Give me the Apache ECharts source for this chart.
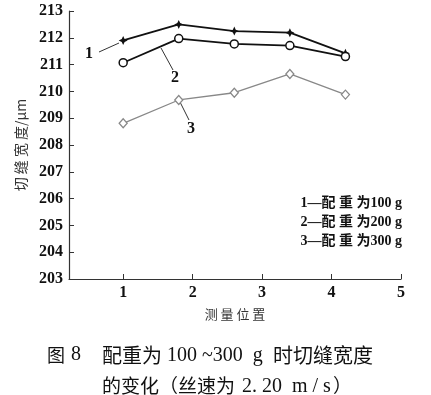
<!DOCTYPE html>
<html><head><meta charset="utf-8">
<script src="https://cdn.jsdelivr.net/npm/echarts@6/dist/echarts.min.js"></script>
<style>html,body{margin:0;padding:0;background:#fff}#c{width:431px;height:395px}</style>
</head><body><div id="c"></div>
<script>
const positions = [1, 1.8, 2.6, 3.4, 4.2];
const s1 = [211.9, 212.5, 212.25, 212.19, 211.42];
const s2 = [211.07, 211.97, 211.77, 211.71, 211.3];
const s3 = [208.81, 209.68, 209.95, 210.65, 209.88];
const xTicks = [1, 2, 3, 4, 5];
const legendTexts = ['1—配 重 为100 g', '2—配 重 为200 g', '3—配 重 为300 g'];

const pair = (xs, ys) => xs.map((x, i) => [x, ys[i]]);
const serif = '"Liberation Serif","Noto Sans CJK SC",serif';
const cjk = '"Noto Sans CJK SC",sans-serif';
const txt = (x, y, text, font, extra) => Object.assign({type: 'text', style: Object.assign({x: x, y: y, text: text, font: font, fill: '#111', verticalAlign: 'middle'}, extra || {})});
const chart = echarts.init(document.getElementById('c'), null, {renderer: 'canvas'});
chart.setOption({
  animation: false,
  grid: {left: 69, top: 11, right: 30, bottom: 116},
  xAxis: {
    type: 'value', min: 0.22, max: 5,
    axisLine: {lineStyle: {color: '#333', width: 1.2}},
    axisTick: {inside: true, length: 5, customValues: xTicks, lineStyle: {color: '#333'}},
    axisLabel: {customValues: xTicks, color: '#111', fontFamily: serif, fontWeight: 'bold', fontSize: 16, margin: 6},
    splitLine: {show: false},
    name: '测 量 位 置', nameLocation: 'middle', nameGap: 29,
    nameTextStyle: {fontFamily: cjk, fontSize: 13, color: '#333'}
  },
  yAxis: {
    type: 'value', min: 203, max: 213, interval: 1,
    axisLine: {show: true, lineStyle: {color: '#333', width: 1.2}},
    axisTick: {show: true, inside: true, length: 5, lineStyle: {color: '#333'}},
    axisLabel: {color: '#111', fontFamily: serif, fontWeight: 'bold', fontSize: 16, margin: 6},
    splitLine: {show: false},
    name: '切 缝 宽 度/μm', nameLocation: 'middle', nameGap: 39,
    nameTextStyle: {fontFamily: cjk, fontSize: 14, color: '#333'}
  },
  series: [
    {type: 'line', data: pair(positions, s1), symbol: 'path://M0,-5L1.6,-1.6L5,0L1.6,1.6L0,5L-1.6,1.6L-5,0L-1.6,-1.6Z', symbolSize: 9,
     lineStyle: {color: '#111', width: 1.8}, itemStyle: {color: '#111'}},
    {type: 'line', data: pair(positions, s2), symbol: 'circle', symbolSize: 8,
     lineStyle: {color: '#111', width: 1.8}, itemStyle: {color: '#fff', borderColor: '#111', borderWidth: 1.5}},
    {type: 'line', data: pair(positions, s3), symbol: 'diamond', symbolSize: [8, 9],
     lineStyle: {color: '#888', width: 1.3}, itemStyle: {color: '#fff', borderColor: '#888', borderWidth: 1.3}}
  ],
  graphic: [
    txt(85, 54, '1', 'bold 16px ' + serif),
    {type: 'line', shape: {x1: 99, y1: 52, x2: 119, y2: 43}, style: {stroke: '#333', lineWidth: 1}},
    txt(171, 78, '2', 'bold 16px ' + serif),
    {type: 'line', shape: {x1: 161, y1: 48, x2: 173, y2: 70}, style: {stroke: '#333', lineWidth: 1}},
    txt(187, 129, '3', 'bold 16px ' + serif),
    {type: 'line', shape: {x1: 180, y1: 102, x2: 189, y2: 120}, style: {stroke: '#333', lineWidth: 1}},
    txt(402, 203, legendTexts[0], 'bold 14px ' + serif, {align: 'right'}),
    txt(402, 222, legendTexts[1], 'bold 14px ' + serif, {align: 'right'}),
    txt(402, 241, legendTexts[2], 'bold 14px ' + serif, {align: 'right'}),
    txt(47, 355, '图', '18px ' + cjk),
    txt(71, 355, '8', '20px ' + serif),
    txt(102, 355, '配重为', '20px ' + cjk),
    txt(167, 356, '100 ~300  g', '20px ' + serif),
    txt(273, 355, '时切缝宽度', '20px ' + cjk),
    txt(102, 386, '的变化（丝速为', '19px ' + cjk),
    txt(242, 387, '2. 20  m / s', '20px ' + serif),
    txt(333, 386, '）', '19px ' + cjk)
  ]
});
</script></body></html>
